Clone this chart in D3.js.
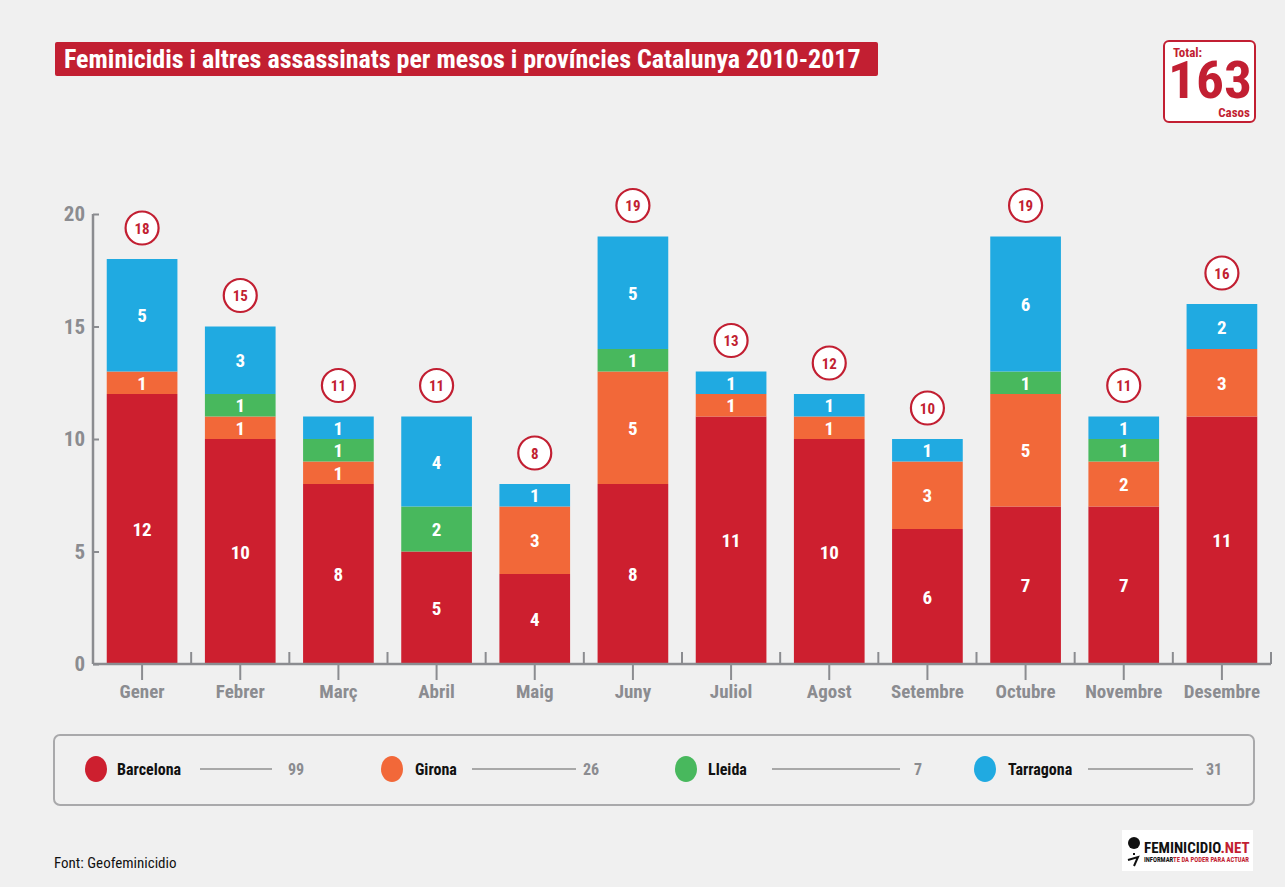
<!DOCTYPE html>
<html>
<head>
<meta charset="utf-8">
<script src="https://cdn.jsdelivr.net/npm/d3@7"></script>
<style>
  body { margin: 0; background: #f0f0f0; }
  svg { display: block; font-family: "Liberation Sans Narrow", "Roboto Condensed", "DejaVu Sans Condensed", sans-serif; }
</style>
</head>
<body>
<div id="chart"></div>
<script>
// data
const months = ['Gener', 'Febrer', 'Març', 'Abril', 'Maig', 'Juny', 'Juliol', 'Agost', 'Setembre', 'Octubre', 'Novembre', 'Desembre'];
const provinces = ['Barcelona', 'Girona', 'Lleida', 'Tarragona'];
const barcelona = [12, 10, 8, 5, 4, 8, 11, 10, 6, 7, 7, 11];
const girona = [1, 1, 1, 0, 3, 5, 1, 1, 3, 5, 2, 3];
const lleida = [0, 1, 1, 2, 0, 1, 0, 0, 0, 1, 1, 0];
const tarragona = [5, 3, 1, 4, 1, 5, 1, 1, 1, 6, 1, 2];
const yTicks = [0, 5, 10, 15, 20];
const colors = ['#cd1f2f', '#f26839', '#48b85d', '#20aae1'];

const W = 1285, H = 887;
const red = '#c21f32';
const grey = '#8b8c90';

const rows = months.map((m, i) => ({
  month: m, Barcelona: barcelona[i], Girona: girona[i], Lleida: lleida[i], Tarragona: tarragona[i]
}));
const totals = rows.map(d => d3.sum(provinces, p => d[p]));
const grand = d3.sum(totals);

const svg = d3.select('#chart').append('svg')
  .attr('width', W).attr('height', H);

svg.append('rect').attr('width', W).attr('height', H).attr('fill', '#f0f0f0');

// title
svg.append('rect')
  .attr('x', 55).attr('y', 42).attr('width', 823).attr('height', 34)
  .attr('rx', 2).attr('fill', red);
svg.append('text')
  .attr('x', 64).attr('y', 68)
  .attr('fill', '#fff').attr('font-weight', 'bold').attr('font-size', 26)
  .text('Feminicidis i altres assassinats per mesos i províncies Catalunya 2010-2017');

// total box
const tb = svg.append('g').attr('transform', 'translate(1164,41)');
tb.append('rect').attr('width', 91).attr('height', 81).attr('rx', 5)
  .attr('fill', '#fff').attr('stroke', red).attr('stroke-width', 2);
tb.append('text').attr('x', 9).attr('y', 16)
  .attr('fill', red).attr('font-weight', 'bold').attr('font-size', 13).text('Total:');
tb.append('text').attr('x', 4).attr('y', 57)
  .attr('fill', red).attr('font-weight', 'bold').attr('font-size', 52)
  .attr('textLength', 84).attr('lengthAdjust', 'spacingAndGlyphs')
  .text(grand);
tb.append('text').attr('x', 86).attr('y', 76).attr('text-anchor', 'end')
  .attr('fill', red).attr('font-weight', 'bold').attr('font-size', 13).text('Casos');

// chart
const margin = { left: 93, right: 14, top: 214, bottom: 223 };
const plotW = W - margin.left - margin.right;
const plotH = H - margin.top - margin.bottom;

const x = d3.scaleBand().domain(months).range([0, plotW]).paddingInner(0.28).paddingOuter(0.14);
const y = d3.scaleLinear().domain([0, 20]).range([plotH, 0]);

const g = svg.append('g').attr('transform', `translate(${margin.left},${margin.top})`);

const stack = d3.stack().keys(provinces)(rows);

const layer = g.selectAll('.layer').data(stack).enter().append('g')
  .attr('class', 'layer').attr('fill', (d, i) => colors[i]);

layer.selectAll('rect').data(d => d).enter().append('rect')
  .attr('x', d => x(d.data.month))
  .attr('y', d => y(d[1]))
  .attr('width', x.bandwidth())
  .attr('height', d => y(d[0]) - y(d[1]));

layer.selectAll('text').data(d => d.filter(s => s[1] - s[0] > 0)).enter().append('text')
  .attr('x', d => x(d.data.month) + x.bandwidth() / 2)
  .attr('y', d => (y(d[0]) + y(d[1])) / 2 + 7)
  .attr('text-anchor', 'middle')
  .attr('fill', '#fff').attr('font-weight', 'bold').attr('font-size', 19)
  .text(d => d[1] - d[0]);

// total circles
const tot = g.selectAll('.tot').data(rows).enter().append('g')
  .attr('class', 'tot')
  .attr('transform', (d, i) => `translate(${x(d.month) + x.bandwidth() / 2},${y(totals[i]) - 31})`);
tot.append('circle').attr('r', 16.5)
  .attr('fill', '#fff').attr('stroke', red).attr('stroke-width', 2.2);
tot.append('text').attr('y', 5.5).attr('text-anchor', 'middle')
  .attr('fill', red).attr('font-weight', 'bold').attr('font-size', 15)
  .text((d, i) => totals[i]);

// y axis
const yAxis = d3.axisRight(y).tickValues(yTicks).tickSize(6).tickFormat('');
const ya = g.append('g').call(yAxis);
ya.select('.domain').remove();
ya.selectAll('line').attr('stroke', grey).attr('stroke-width', 2);
g.append('line').attr('x1', 0).attr('x2', 0).attr('y1', y(20)).attr('y2', y(0))
  .attr('stroke', grey).attr('stroke-width', 2.5);
g.selectAll('.ylab').data(yTicks).enter().append('text')
  .attr('x', -8).attr('y', d => y(d) + 7)
  .attr('text-anchor', 'end').attr('fill', grey)
  .attr('font-weight', 'bold').attr('font-size', 21)
  .text(d => d);

// x axis
const xa = g.append('g').attr('transform', `translate(0,${plotH})`)
  .call(d3.axisBottom(x).tickSize(16).tickSizeOuter(0))
  .attr('font-family', null).attr('font-size', null);
xa.select('.domain').remove();
xa.selectAll('line').attr('stroke', grey).attr('stroke-width', 2);
xa.selectAll('text').attr('y', 21).attr('fill', grey)
  .attr('font-weight', 'bold').attr('font-size', 19);
g.append('line').attr('x1', 0).attr('x2', plotW).attr('y1', plotH).attr('y2', plotH)
  .attr('stroke', grey).attr('stroke-width', 2.5);
// separator ticks between months
const step = x.step();
const sepStart = x(months[0]) - step * x.paddingInner() / 2;
g.selectAll('.sep').data(d3.range(1, months.length + 1)).enter().append('line')
  .attr('x1', i => sepStart + i * step)
  .attr('x2', i => sepStart + i * step)
  .attr('y1', plotH - 12).attr('y2', plotH)
  .attr('stroke', grey).attr('stroke-width', 2);

// legend
const legendTotals = provinces.map(p => d3.sum(rows, d => d[p]));
const legendPos = [
  { c: 96, l: 117, a: 200, b: 272, v: 288 },
  { c: 392, l: 415, a: 472, b: 576, v: 583 },
  { c: 686, l: 708, a: 772, b: 900, v: 914 },
  { c: 985, l: 1008, a: 1088, b: 1193, v: 1206 }
];
svg.append('rect').attr('x', 54).attr('y', 735).attr('width', 1200).attr('height', 70)
  .attr('rx', 6).attr('fill', 'none').attr('stroke', '#a9a9ab').attr('stroke-width', 2);
const lg = svg.selectAll('.lg').data(provinces).enter().append('g').attr('class', 'lg');
lg.append('ellipse').attr('cx', (d, i) => legendPos[i].c).attr('cy', 769)
  .attr('rx', 11).attr('ry', 13).attr('fill', (d, i) => colors[i]);
lg.append('text').attr('x', (d, i) => legendPos[i].l).attr('y', 775)
  .attr('font-weight', 'bold').attr('font-size', 16).attr('fill', '#111')
  .text(d => d);
lg.append('line').attr('x1', (d, i) => legendPos[i].a).attr('x2', (d, i) => legendPos[i].b)
  .attr('y1', 769).attr('y2', 769).attr('stroke', '#909090').attr('stroke-width', 1.4);
lg.append('text').attr('x', (d, i) => legendPos[i].v).attr('y', 775)
  .attr('font-weight', 'bold').attr('font-size', 16).attr('fill', grey)
  .text((d, i) => legendTotals[i]);

// footer
svg.append('text').attr('x', 54).attr('y', 868).attr('font-size', 15).attr('fill', '#111')
  .text('Font: Geofeminicidio');

// logo
const logo = svg.append('g').attr('transform', 'translate(1122,830)');
logo.append('rect').attr('width', 131).attr('height', 41).attr('fill', '#fff');
logo.append('circle').attr('cx', 12).attr('cy', 13).attr('r', 6).attr('fill', '#111');
logo.append('path').attr('d', 'M6 30 L16 27 L12 36 M11 24 L13 24').attr('stroke', '#111')
  .attr('stroke-width', 2).attr('fill', 'none');
logo.append('text').attr('x', 22).attr('y', 23).attr('font-weight', 'bold').attr('font-size', 15)
  .attr('fill', '#111').text('FEMINICIDIO').append('tspan').attr('fill', red).text('.NET');
logo.append('text').attr('x', 22).attr('y', 32).attr('font-weight', 'bold').attr('font-size', 6.6)
  .attr('fill', '#111').text('INFORMAR').append('tspan').attr('fill', red).text('TE DA PODER PARA ACTUAR');
</script>
</body>
</html>
